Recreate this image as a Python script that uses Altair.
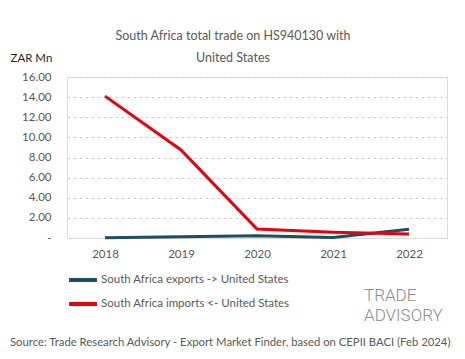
import altair as alt
import pandas as pd

years = ["2018", "2019", "2020", "2021", "2022"]
exports = [0.02, 0.12, 0.22, 0.06, 0.88]
imports = [14.1, 8.75, 0.9, 0.58, 0.4]
series_names = ["South Africa exports -> United States", "South Africa imports <- United States"]
series_colors = ["#1f4e5f", "#e8000b"]
y_ticks = [0, 2, 4, 6, 8, 10, 12, 14, 16]

rows = []
for y, e, i in zip(years, exports, imports):
    rows.append({"year": y, "value": e, "series": series_names[0]})
    rows.append({"year": y, "value": i, "series": series_names[1]})
df = pd.DataFrame(rows)

FONT = "Lato"
GRAY = "#595959"

lines = alt.Chart(df).mark_line(strokeWidth=3).encode(
    x=alt.X("year:O", sort=years,
            scale=alt.Scale(paddingOuter=0.5, paddingInner=0),
            axis=alt.Axis(title=None, labelAngle=0, ticks=False, labelPadding=10,
                          domainColor="#d9d9d9", labelColor=GRAY, labelFontSize=11.5,
                          labelFont=FONT, grid=False)),
    y=alt.Y("value:Q", scale=alt.Scale(domain=[0, 16], nice=False),
            axis=alt.Axis(values=y_ticks, title="ZAR Mn", titleAngle=0, titleX=-57, titleY=-14,
                          titleAlign="left", titleFont=FONT, titleFontWeight="normal",
                          titleFontSize=11.5, titleColor="#262626",
                          labelExpr="datum.value == 0 ? '-' : format(datum.value, '.2f')",
                          labelPadding=16, labelColor=GRAY, labelFontSize=11.5, labelFont=FONT,
                          domain=False, ticks=False, gridDash=[3, 3], gridColor="#d0d0d0")),
    color=alt.Color("series:N", sort=series_names,
                    scale=alt.Scale(domain=series_names, range=series_colors),
                    legend=alt.Legend(title=None, orient="none", legendX=0, legendY=187,
                                      direction="vertical", symbolType="stroke",
                                      symbolStrokeWidth=4, symbolSize=780, rowPadding=0,
                                      labelFont=FONT, labelFontSize=11.5, labelColor=GRAY,
                                      labelOffset=2, labelLimit=400)),
)

title1 = alt.Chart(pd.DataFrame({"t": ["South Africa total trade on HS940130 with"]})).mark_text(
    font=FONT, fontSize=12.5, color=GRAY, align="center", baseline="middle"
).encode(text="t:N", x=alt.value(166), y=alt.value(-41))
title2 = alt.Chart(pd.DataFrame({"t": ["United States"]})).mark_text(
    font=FONT, fontSize=12.5, color=GRAY, align="center", baseline="middle"
).encode(text="t:N", x=alt.value(166), y=alt.value(-19))

logo1 = alt.Chart(pd.DataFrame({"t": ["TRADE"]})).mark_text(
    font="Roboto", fontWeight=300, fontSize=17, color="#8c8c8c", align="left", baseline="middle"
).encode(text="t:N", x=alt.value(297), y=alt.value(219))
logo2 = alt.Chart(pd.DataFrame({"t": ["ADVISORY"]})).mark_text(
    font="Roboto", fontWeight=300, fontSize=17, color="#8c8c8c", align="left", baseline="middle"
).encode(text="t:N", x=alt.value(297), y=alt.value(239))

source = alt.Chart(pd.DataFrame({"t": ["Source: Trade Research Advisory - Export Market Finder, based on CEPII BACI (Feb 2024)"]})).mark_text(
    font=FONT, fontSize=11.3, color=GRAY, align="left", baseline="middle"
).encode(text="t:N", x=alt.value(-57), y=alt.value(266))

chart = alt.layer(lines, title1, title2, logo1, logo2, source).properties(
    width=380, height=161,
    autosize=alt.AutoSizeParams(type="none"),
    padding={"left": 59, "top": 69, "right": 10, "bottom": 110},
).configure_view(stroke=None).configure(background="white")

chart.save("out.html", embed_options={"renderer": "svg", "actions": False})
